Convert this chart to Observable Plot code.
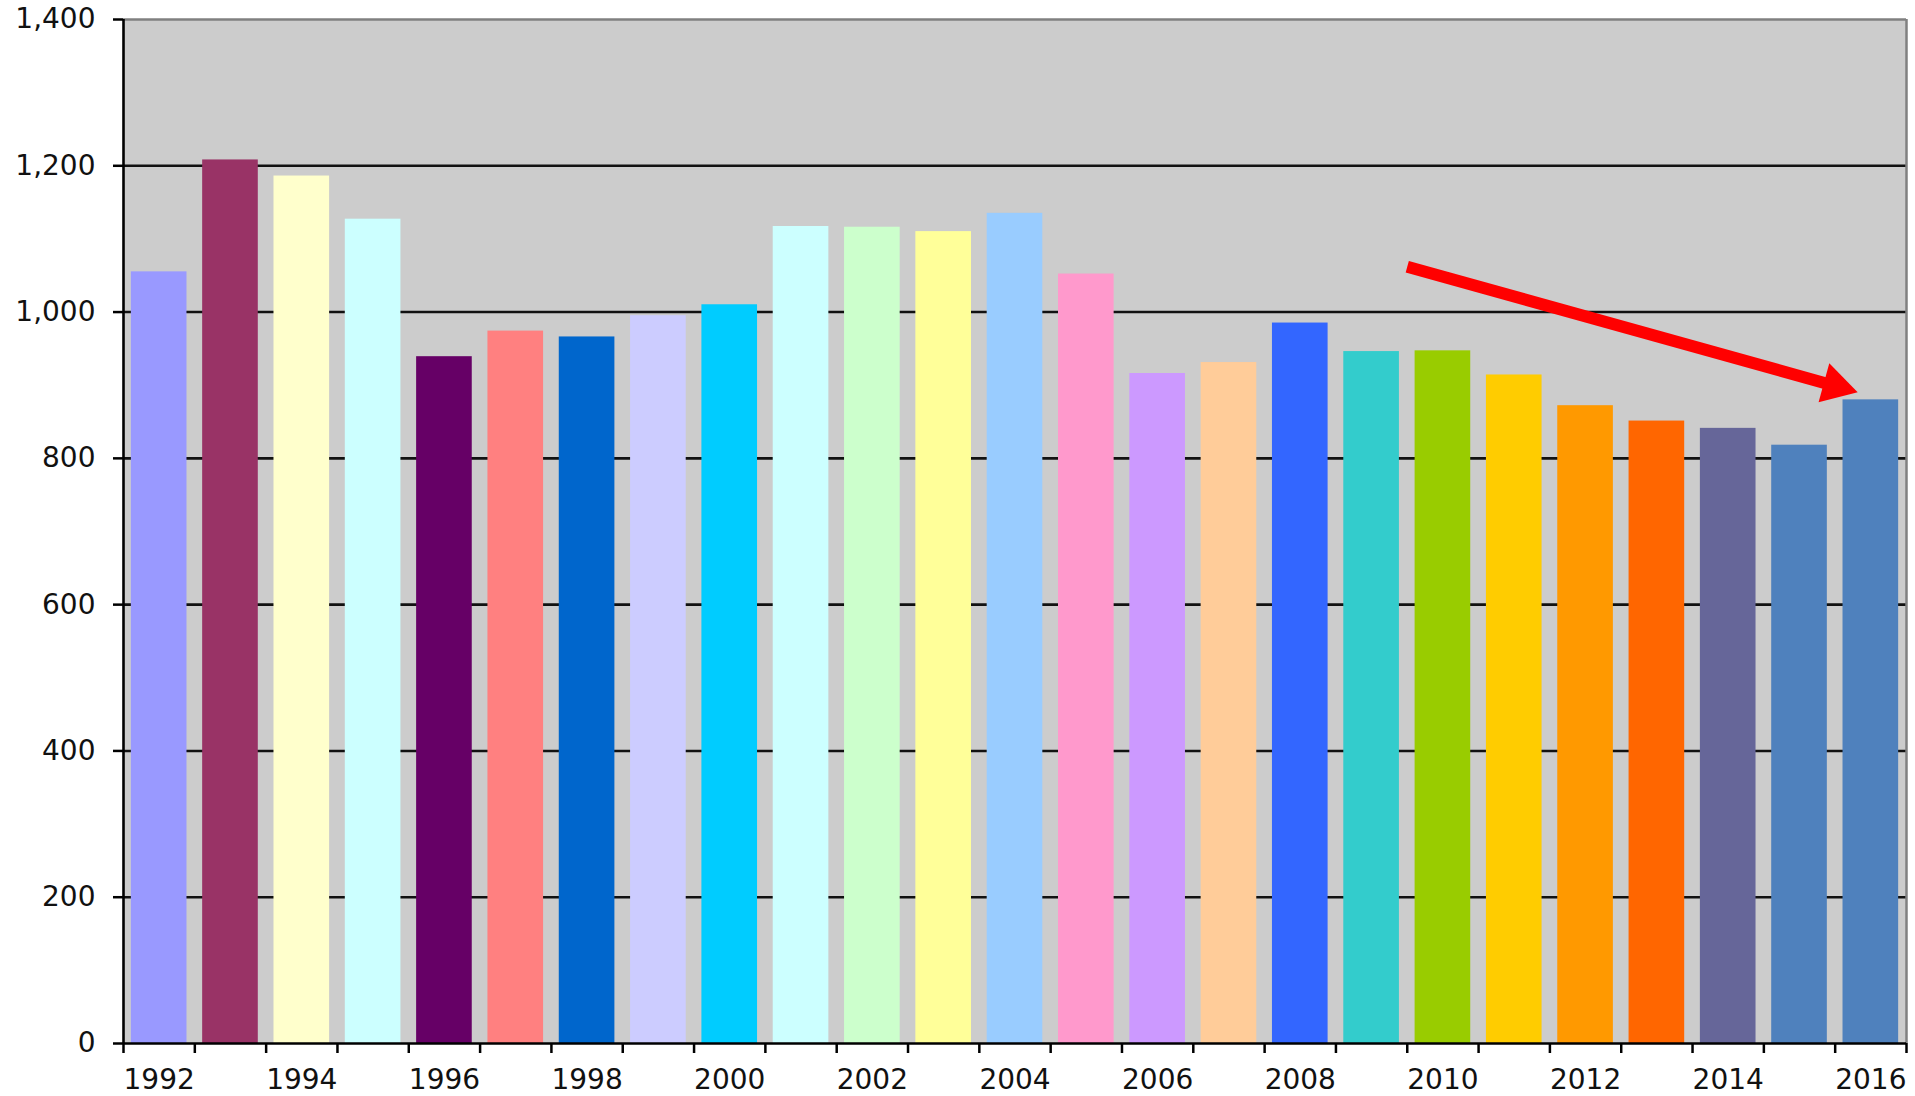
<!DOCTYPE html>
<html>
<head>
<meta charset="utf-8">
<script src="https://cdn.jsdelivr.net/npm/d3@7"></script>
<script src="https://cdn.jsdelivr.net/npm/@observablehq/plot@0.6"></script>
<style>
  html, body { margin: 0; padding: 0; background: #fff; }
  #chart svg { display: block; }
</style>
</head>
<body>
<div id="chart"></div>
<script>
const years = [1992,1993,1994,1995,1996,1997,1998,1999,2000,2001,2002,2003,2004,2005,2006,2007,2008,2009,2010,2011,2012,2013,2014,2015,2016];
const values = [1055,1208,1186,1127,939,974,966,995,1010,1117,1116,1110,1135,1052,916,931,985,946,947,914,872,851,841,818,880];
const colors = ["#9999FF","#993366","#FFFFCC","#CCFFFF","#660066","#FF8080","#0066CC","#CCCCFF","#00CCFF","#CCFFFF","#CCFFCC","#FFFF99","#99CCFF","#FF99CC","#CC99FF","#FFCC99","#3366FF","#33CCCC","#99CC00","#FFCC00","#FF9900","#FF6600","#666699","#4F81BD","#4F81BD"];
const yTicks = [0,200,400,600,800,1000,1200,1400];
const gridValues = [200,400,600,800,1000,1200];
const xLabelYears = [1992,1994,1996,1998,2000,2002,2004,2006,2008,2010,2012,2014,2016];
const boundaries = [...years.map(y => y - 0.5), years[years.length - 1] + 0.5];
// trend-arrow annotation (data units)
const arrowStart = {x: 2009.5, y: 1062};
const arrowHead = {x: 2015.5, y: 899};

const data = years.map((year, i) => ({year, value: values[i], color: colors[i]}));
const half = 0.39;
const xMin = boundaries[0], xMax = boundaries[boundaries.length - 1];

const chart = Plot.plot({
  width: 1915,
  height: 1096,
  marginLeft: 123,
  marginRight: 9,
  marginTop: 19,
  marginBottom: 53,
  style: {fontFamily: "'DejaVu Sans', Verdana, sans-serif", fontSize: "28px", color: "#111", background: "#fff"},
  x: {type: "linear", domain: [xMin, xMax]},
  y: {domain: [0, 1400]},
  marks: [
    Plot.frame({fill: "#cccccc", stroke: null}),
    Plot.ruleY(gridValues, {stroke: "#111", strokeWidth: 2.6}),
    Plot.rectY(data, {x1: d => d.year - half, x2: d => d.year + half, y: "value", fill: "color"}),
    Plot.ruleY([1400], {stroke: "#808080", strokeWidth: 2.5}),
    Plot.ruleX([xMax], {stroke: "#808080", strokeWidth: 2.5}),
    Plot.ruleX([xMin], {stroke: "#000", strokeWidth: 2.6}),
    Plot.ruleY([0], {stroke: "#000", strokeWidth: 2.6}),
    Plot.axisY({ticks: yTicks, tickSize: 10, tickPadding: 18, tickFormat: d3.format(","), strokeWidth: 2.5, stroke: "#000", fill: "#111", label: null}),
    Plot.axisX({ticks: boundaries, tickSize: 10, tickFormat: () => "", strokeWidth: 2.5, stroke: "#000", label: null}),
    Plot.axisX({ticks: xLabelYears, tickSize: 0, tickPadding: 26, tickFormat: d => String(d), fill: "#111", label: null}),
    Plot.link([0], {x1: () => arrowStart.x, y1: () => arrowStart.y, x2: () => arrowHead.x, y2: () => arrowHead.y, stroke: "#FF0000", strokeWidth: 12}),
    Plot.dot([0], {x: () => arrowHead.x, y: () => arrowHead.y, symbol: "triangle", r: 15, rotate: 105.4, fill: "#FF0000", stroke: null})
  ]
});
document.getElementById("chart").appendChild(chart);
</script>
</body>
</html>
